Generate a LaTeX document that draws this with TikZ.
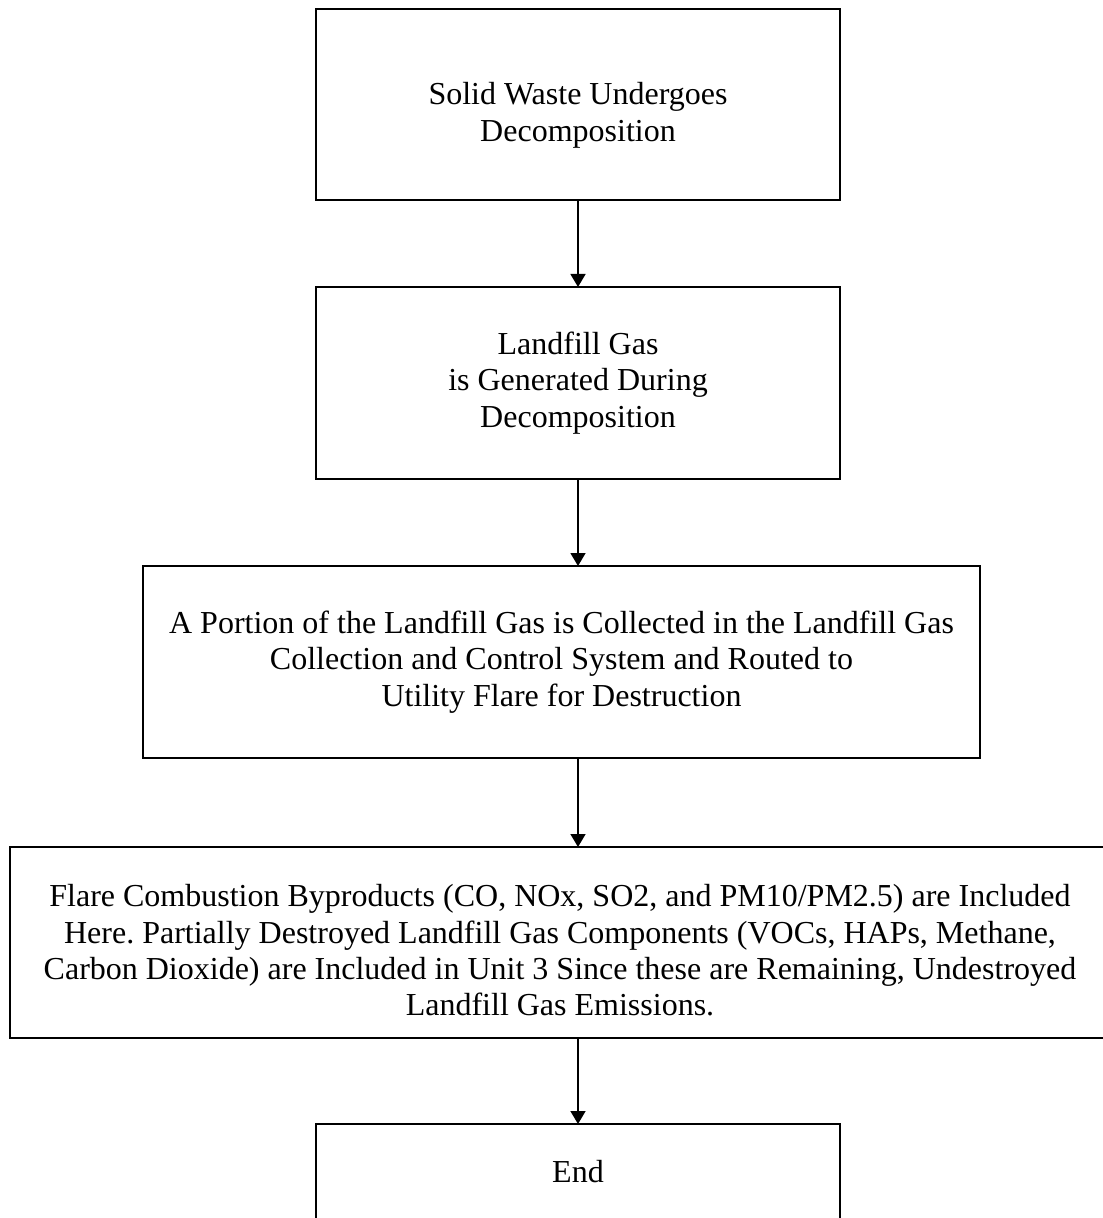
\documentclass[tikz,border=0pt]{standalone}
\usepackage{fontspec}
\setmainfont{Liberation Serif}
\usetikzlibrary{arrows.meta}
\frenchspacing

\begin{document}
\begin{tikzpicture}[
        x=0.5pt, y=-0.5pt,
        stepbox/.style={
            rectangle,
            draw,
            line width=1pt,
            align=center,
            minimum width=262pt,
            minimum height=96pt,
            font=\fontsize{16}{18.2}\selectfont,
            inner sep=0pt,
            outer sep=0pt
        },
        arrow/.style={
            -{Triangle[width=7.5pt,length=6.5pt]},
            line width=0.8pt
        }
    ]

        \useasboundingbox (0,0) rectangle (1102,1218);

        \node[stepbox, minimum height=95.5pt] (waste) at (578,104.5) {\rule{0pt}{22pt}Solid Waste Undergoes\\Decomposition};
        \node[stepbox] (gas) at (578,383) {Landfill Gas\\is Generated During\\Decomposition};
        \node[stepbox, minimum width=418.5pt] (collect) at (561.5,662) {A Portion of the Landfill Gas is Collected in the Landfill Gas\\Collection and Control System and Routed to\\Utility Flare for Destruction};
        \node[stepbox, minimum width=550pt, minimum height=95.5pt] (flare) at (560,942.5) {\rule{0pt}{19pt}Flare Combustion Byproducts (CO, NOx, SO2, and PM10/PM2.5) are Included\\Here. Partially Destroyed Landfill Gas Components (VOCs, HAPs, Methane,\\Carbon Dioxide) are Included in Unit 3 Since these are Remaining, Undestroyed\\Landfill Gas Emissions.};
        \node[stepbox, minimum height=48pt] (finish) at (578,1172) {End};

        \draw[arrow] (waste.south) -- (gas.north);
        \draw[arrow] (gas.south) -- (gas.south |- collect.north);
        \draw[arrow] (collect.south -| waste.south) -- (flare.north -| waste.south);
        \draw[arrow] (flare.south -| waste.south) -- (finish.north);

    \end{tikzpicture}
\end{document}
